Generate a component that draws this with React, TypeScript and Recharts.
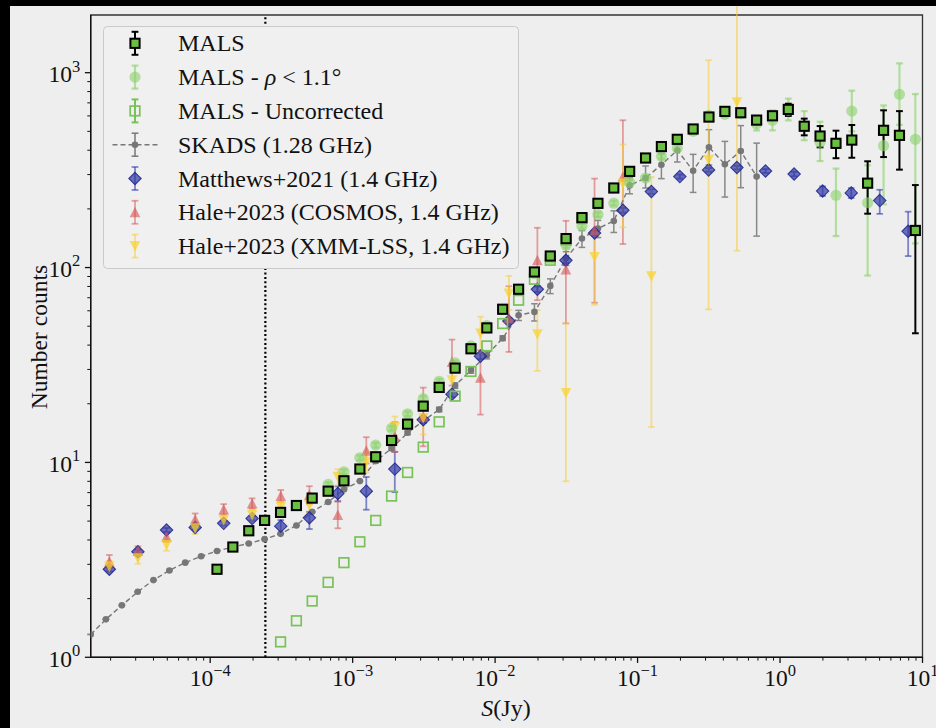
import React from 'react';
import { ScatterChart, Scatter, XAxis, YAxis, ErrorBar, ReferenceLine, ReferenceArea } from 'recharts';

const FONT = "'Liberation Serif', 'Times New Roman', 'DejaVu Serif', serif";

// ---------- axis definitions ----------
const X_MIN = 1.45e-5;
const X_MAX = 10;
const Y_MIN = 1;
const Y_MAX = 1977;
const xMajorTicks = [1e-4, 1e-3, 1e-2, 1e-1, 1, 10];
const xTickLabels = ['\u22124', '\u22123', '\u22122', '\u22121', '0', '1'];
const yMajorTicks = [1, 10, 100, 1000];
const yTickLabels = ['0', '1', '2', '3'];
const minorMult = [2, 3, 4, 5, 6, 7, 8, 9];
const xMinorTicks = [1e-5, 1e-4, 1e-3, 1e-2, 1e-1, 1]
  .flatMap((d) => minorMult.map((m) => +(m * d).toPrecision(3)))
  .filter((v) => v > X_MIN && v < X_MAX);
const yMinorTicks = [1, 10, 100, 1000]
  .flatMap((d) => minorMult.map((m) => m * d))
  .filter((v) => v < Y_MAX);
const xTicks = [...xMajorTicks, ...xMinorTicks].sort((a, b) => a - b);
const yTicks = [...yMajorTicks, ...yMinorTicks].sort((a, b) => a - b);

const completenessLimit = 2.44e-4;

// ---------- MALS ----------
const malsS = [1.117e-4, 1.443e-4, 1.866e-4, 2.41e-4, 3.12e-4, 4.03e-4, 5.2e-4, 6.73e-4, 8.69e-4, 1.124e-3,
  1.452e-3, 1.876e-3, 2.43e-3, 3.13e-3, 4.05e-3, 5.24e-3, 6.77e-3, 8.75e-3, 1.13e-2, 1.462e-2,
  1.888e-2, 2.44e-2, 3.15e-2, 4.07e-2, 5.27e-2, 6.81e-2, 8.8e-2, 0.1138, 0.147, 0.19,
  0.2455, 0.317, 0.41, 0.53, 0.685, 0.885, 1.143, 1.479, 1.91, 2.47,
  3.19, 4.12, 5.33, 6.89, 8.91];
const malsN = [2.83, 3.68, 4.46, 5.04, 5.54, 6.01, 6.56, 7.12, 8.05, 9.25,
  10.69, 12.97, 15.72, 19.44, 24.26, 30.47, 38.3, 49.0, 61.1, 77.4,
  94.9, 114.6, 140.8, 180.4, 213.6, 256, 311.6, 364.9, 417.6, 455,
  514, 592, 633, 623, 571, 601, 648, 531, 473, 434,
  451, 271, 506, 477, 155];
const malsErrLo = [0.03, 0.04, 0.05, 0.06, 0.06, 0.07, 0.08, 0.08, 0.09, 0.1,
  0.12, 0.15, 0.18, 0.22, 0.28, 0.35, 0.45, 0.6, 0.7, 0.9,
  1.1, 1.4, 1.7, 2.2, 2.6, 3, 3.8, 4.5, 5.5, 6.5,
  8, 10, 13, 15, 18, 25, 48, 54, 59, 70,
  85, 82, 137, 159, 109];
const malsErrHi = [0.03, 0.04, 0.05, 0.06, 0.06, 0.07, 0.08, 0.08, 0.09, 0.1,
  0.12, 0.15, 0.18, 0.22, 0.28, 0.35, 0.45, 0.6, 0.7, 0.9,
  1.1, 1.4, 1.7, 2.2, 2.6, 3, 3.8, 4.5, 5.5, 6.5,
  8, 10, 13, 15, 18, 25, 45, 50, 59, 70,
  88, 80, 135, 158, 110];

// ---------- MALS rho < 1.1 deg (bins 7..44 of MALS) ----------
const rhoS = malsS.slice(7);
const rhoN = [7.71, 8.95, 10.56, 12.27, 14.94, 17.76, 21.24, 26.1, 32.4, 39.6,
  50.4, 61, 77, 93, 110, 130, 163, 187, 214, 273,
  288, 372, 411, 500, 604, 611, 616, 545, 569, 641,
  530, 439, 235, 635, 215, 422, 774, 455];
const rhoErrLo = [0.2, 0.25, 0.3, 0.35, 0.4, 0.5, 0.6, 0.7, 0.9, 1.1,
  1.4, 1.7, 2.1, 2.5, 3, 3.5, 4.5, 5, 6, 8,
  9, 11, 13, 16, 19, 20, 22, 40, 63, 72,
  80, 87, 90, 135, 124, 211, 234, 322];
const rhoErrHi = [0.2, 0.25, 0.3, 0.35, 0.4, 0.5, 0.6, 0.7, 0.9, 1.1,
  1.4, 1.7, 2.1, 2.5, 3, 3.5, 4.5, 5, 6, 8,
  9, 11, 13, 16, 19, 20, 22, 30, 72, 95,
  105, 121, 87, 174, 120, 257, 343, 322];

// ---------- MALS uncorrected (bins 4..23) ----------
const uncS = malsS.slice(4, 24);
const uncN = [1.2, 1.54, 1.944, 2.425, 3.06, 3.915, 5.04, 6.72, 8.88, 11.98,
  16.16, 21.88, 29.3, 39.6, 51.6, 68.0, 87.1, 109, 138, 179];

// ---------- SKADS ----------
const skS = [1.45e-5, 1.854e-5, 2.4e-5, 3.1e-5, 4.0e-5, 5.17e-5, 6.68e-5, 8.64e-5, ...malsS.slice(0, 35)];
const skN = [1.31, 1.566, 1.848, 2.168, 2.49, 2.79, 3.06, 3.3,
  3.51, 3.68, 3.84, 4.04, 4.3, 4.75, 5.58, 6.26, 7.27, 8.02,
  10.16, 11.8, 14.19, 16.3, 18.7, 24.8, 29.7, 35.5, 43.4, 56.9,
  59.2, 80.5, 111.6, 140.9, 158.5, 173.4, 264, 288, 337, 400,
  314, 414, 339, 396, 293];
const skErrLo = [0, 0, 0, 0, 0, 0, 0, 0,
  0, 0, 0, 0, 0, 0, 0, 0, 0, 0,
  0.2, 0.25, 0.3, 0.4, 0.5, 0.8, 1.0, 1.5, 1.2, 3.4,
  6, 7, 9, 14, 16, 22, 25, 32, 51, 52,
  71, 78, 109, 139, 148];
const skErrHi = [0, 0, 0, 0, 0, 0, 0, 0,
  0, 0, 0, 0, 0, 0, 0, 0, 0, 0,
  0.2, 0.25, 0.3, 0.4, 0.5, 0.8, 1.0, 1.5, 1.2, 3.4,
  6, 7, 9, 14, 16, 22, 25, 44, 47, 53,
  67, 96, 105, 139, 142];

// ---------- Matthews+2021 ----------
const matS = [1.96e-5, 3.11e-5, 4.94e-5, 7.85e-5, 1.245e-4, 1.97e-4, 3.13e-4, 4.97e-4, 7.87e-4, 1.247e-3,
  1.977e-3, 3.13e-3, 4.98e-3, 7.89e-3, 1.25e-2, 1.98e-2, 3.14e-2, 4.99e-2, 7.89e-2, 0.125,
  0.198, 0.315, 0.498, 0.791, 1.256, 1.99, 3.16, 5.01, 7.93];
const matN = [2.83, 3.48, 4.5, 4.64, 4.87, 5.16, 4.71, 5.2, 6.93, 7.12,
  9.24, 16.57, 22.4, 35.1, 53.2, 77.4, 109, 150.4, 196.8, 245.5,
  293, 317, 326, 313, 302, 247, 241.5, 220.6, 153.5];
const matErrLo = [0.07, 0.09, 0.11, 0.12, 0.12, 0.13, 0.39, 0.65, 0.6, 1.4,
  2.2, 0.6, 0.8, 1.2, 1.8, 2.5, 3.5, 4.5, 5.5, 6.5,
  7, 7, 7, 7, 8, 14, 14, 32, 39];
const matErrHi = [0.07, 0.09, 0.11, 0.12, 0.12, 0.13, 0.35, 0.38, 0.6, 1.3,
  2.1, 0.6, 0.8, 1.2, 1.8, 2.5, 3.5, 4.5, 5.5, 6.5,
  7, 7, 7, 7, 8, 14, 14, 30, 40];

// ---------- Hale+2023 COSMOS ----------
const cosS = [1.96e-5, 3.11e-5, 4.94e-5, 7.85e-5, 1.245e-4, 1.97e-4, 3.13e-4, 4.97e-4, 7.87e-4, 1.247e-3,
  1.977e-3, 3.13e-3, 4.98e-3, 7.89e-3, 1.25e-2, 1.98e-2, 3.14e-2, 4.99e-2, 7.89e-2];
const cosN = [3.09, 3.51, 4.15, 5.1, 5.74, 6.16, 6.72, 6.8, 5.37, 11.47,
  13.6, 17.1, 32.8, 27.2, 54.7, 109, 97.7, 155, 292];
const cosErrLo = [0.24, 0.2, 0.25, 0.35, 0.35, 0.36, 0.46, 0.7, 0.78, 1.6,
  2.3, 5, 8, 9.6, 17.8, 41, 46, 89, 160];
const cosErrHi = [0.26, 0.2, 0.25, 0.37, 0.37, 0.38, 0.5, 0.75, 0.91, 2.0,
  2.5, 7.1, 9.9, 10.5, 25.5, 51, 76, 131, 278];

// ---------- Hale+2023 XMM-LSS ----------
const xmmS = [1.96e-5, 3.11e-5, 4.94e-5, 7.85e-5, 1.245e-4, 1.97e-4, 3.13e-4, 4.97e-4, 7.87e-4, 1.247e-3,
  1.977e-3, 3.13e-3, 4.98e-3, 7.89e-3, 1.25e-2, 1.98e-2, 3.14e-2, 4.99e-2, 7.89e-2, 0.125,
  0.315, 0.498];
const xmmN = [2.92, 3.22, 3.77, 4.59, 5.06, 5.37, 5.92, 6.04, 8.44, 10.07,
  15.2, 16.9, 26.4, 45.9, 73.6, 45.5, 22.7, 113.3, 270, 90.2,
  357, 705];
const xmmErrLo = [0.2, 0.2, 0.25, 0.3, 0.3, 0.35, 0.4, 0.5, 0.8, 1.2,
  2, 3, 4, 9.5, 13, 16, 14.7, 49, 109, 75,
  296, 583];
const xmmErrHi = [0.2, 0.2, 0.25, 0.3, 0.3, 0.35, 0.4, 0.5, 0.8, 1.2,
  2, 3, 4, 10, 17, 15, 29, 42, 158, 201,
  801, 2500];

const build = (S: number[], N: number[], lo: number[], hi: number[]) =>
  S.map((x, i) => ({ x, y: N[i], err: [lo[i], hi[i]] }));

const malsData = build(malsS, malsN, malsErrLo, malsErrHi);
const rhoData = build(rhoS, rhoN, rhoErrLo, rhoErrHi);
const uncData = uncS.map((x, i) => ({ x, y: uncN[i] }));
const skData = build(skS, skN, skErrLo, skErrHi);
const matData = build(matS, matN, matErrLo, matErrHi);
const cosData = build(cosS, cosN, cosErrLo, cosErrHi);
const xmmData = build(xmmS, xmmN, xmmErrLo, xmmErrHi);

// ---------- colours ----------
const C_MALS = '#6abf40';
const C_RHO = 'rgba(140,210,110,0.62)';
const C_UNC = '#78c257';
const C_SK = '#777777';
const C_MAT = 'rgba(45,55,165,0.7)';
const C_MAT_EDGE = 'rgba(30,36,140,0.85)';
const C_MAT_ERR = 'rgba(50,60,170,0.6)';
const C_COS = 'rgba(215,85,85,0.62)';
const C_COS_ERR = 'rgba(215,90,90,0.55)';
const C_XMM = 'rgba(250,210,45,0.72)';
const C_XMM_ERR = 'rgba(245,205,60,0.55)';

// ---------- marker shapes ----------
const ok = (p: any) => Number.isFinite(p.cx) && Number.isFinite(p.cy);
const malsMark = (cx: number, cy: number) => (
  <rect x={cx - 4.6} y={cy - 4.6} width={9.2} height={9.2} fill={C_MALS} stroke="#000" strokeWidth={2} />
);
const rhoMark = (cx: number, cy: number) => <circle cx={cx} cy={cy} r={5.6} fill={C_RHO} />;
const uncMark = (cx: number, cy: number) => (
  <rect x={cx - 4.8} y={cy - 4.8} width={9.6} height={9.6} fill="none" stroke={C_UNC} strokeWidth={1.7} />
);
const skMark = (cx: number, cy: number) => <circle cx={cx} cy={cy} r={3.3} fill={C_SK} />;
const matMark = (cx: number, cy: number) => (
  <path d={`M${cx},${cy - 6.2}L${cx + 6.2},${cy}L${cx},${cy + 6.2}L${cx - 6.2},${cy}Z`} fill={C_MAT} stroke={C_MAT_EDGE} strokeWidth={1.1} />
);
const cosMark = (cx: number, cy: number) => (
  <path d={`M${cx},${cy - 5.5}L${cx + 5.3},${cy + 5}L${cx - 5.3},${cy + 5}Z`} fill={C_COS} />
);
const xmmMark = (cx: number, cy: number) => (
  <path d={`M${cx},${cy + 5.5}L${cx + 5.3},${cy - 5}L${cx - 5.3},${cy - 5}Z`} fill={C_XMM} />
);
const wrap = (fn: (cx: number, cy: number) => React.ReactElement) => (p: any) =>
  ok(p) ? fn(p.cx, p.cy) : <g />;

// ---------- ticks ----------
const XTick = (props: any) => {
  const { x, y, payload } = props;
  const k = xMajorTicks.indexOf(payload.value);
  const major = k >= 0;
  return (
    <g>
      <line x1={x} x2={x} y1={y} y2={y + (major ? 5.6 : 3.3)} stroke="#111" strokeWidth={major ? 1.3 : 1} />
      {major && (
        <text x={x} y={y + 28.7} textAnchor="middle" fontFamily={FONT} fontSize={23.5} fill="#111">
          10<tspan dy={-10.5} fontSize={16.5}>{xTickLabels[k]}</tspan>
        </text>
      )}
    </g>
  );
};
const YTick = (props: any) => {
  const { x, y, payload } = props;
  const k = yMajorTicks.indexOf(payload.value);
  const major = k >= 0;
  return (
    <g>
      <line x1={x - (major ? 5.8 : 3.4)} x2={x} y1={y} y2={y} stroke="#111" strokeWidth={major ? 1.3 : 1} />
      {major && (
        <text x={x - 10.5} y={y + 9.4} textAnchor="end" fontFamily={FONT} fontSize={23.5} fill="#111">
          10<tspan dy={-10.5} fontSize={16.5}>{yTickLabels[k]}</tspan>
        </text>
      )}
    </g>
  );
};

// ---------- legend ----------
const legendRows = [
  { key: 'mals', label: 'MALS' },
  { key: 'rho', label: 'rho' },
  { key: 'unc', label: 'MALS - Uncorrected' },
  { key: 'sk', label: 'SKADS (1.28 GHz)' },
  { key: 'mat', label: 'Matthews+2021 (1.4 GHz)' },
  { key: 'cos', label: 'Hale+2023 (COSMOS, 1.4 GHz)' },
  { key: 'xmm', label: 'Hale+2023 (XMM-LSS, 1.4 GHz)' },
];

const LegendBar = ({ cx, cy, color, w }: { cx: number; cy: number; color: string; w: number }) => (
  <g stroke={color} strokeWidth={w}>
    <line x1={cx} x2={cx} y1={cy - 11.5} y2={cy + 11.5} />
    <line x1={cx - 3.4} x2={cx + 3.4} y1={cy - 11.5} y2={cy - 11.5} />
    <line x1={cx - 3.4} x2={cx + 3.4} y1={cy + 11.5} y2={cy + 11.5} />
  </g>
);

const LegendIcon = ({ k, cx, cy }: { k: string; cx: number; cy: number }) => {
  switch (k) {
    case 'mals':
      return <g><LegendBar cx={cx} cy={cy} color="#000" w={2} />{malsMark(cx, cy)}</g>;
    case 'rho':
      return <g><LegendBar cx={cx} cy={cy} color={C_RHO} w={2.2} />{rhoMark(cx, cy)}</g>;
    case 'unc':
      return <g><LegendBar cx={cx} cy={cy} color={C_UNC} w={2} />{uncMark(cx, cy)}</g>;
    case 'sk':
      return (
        <g>
          <line x1={cx - 22.5} x2={cx + 23} y1={cy} y2={cy} stroke={C_SK} strokeWidth={1.5} strokeDasharray="5 3" />
          <LegendBar cx={cx} cy={cy} color={C_SK} w={1.5} />
          {skMark(cx, cy)}
        </g>
      );
    case 'mat':
      return <g><LegendBar cx={cx} cy={cy} color={C_MAT_ERR} w={1.8} />{matMark(cx, cy)}</g>;
    case 'cos':
      return <g><LegendBar cx={cx} cy={cy} color={C_COS_ERR} w={1.8} />{cosMark(cx, cy)}</g>;
    default:
      return <g><LegendBar cx={cx} cy={cy} color={C_XMM_ERR} w={1.8} />{xmmMark(cx, cy)}</g>;
  }
};

const Overlay = () => {
  const lx = 103;
  const ly = 26;
  return (
    <svg width={936} height={728} style={{ position: 'absolute', left: 0, top: 0, pointerEvents: 'none' }}>
      <rect x={lx + 0.5} y={ly + 0.5} width={415} height={242} rx={4} fill="#f0f0f0" stroke="#cacaca" strokeWidth={1} />
      {legendRows.map((r, i) => {
        const cy = ly + 17.3 + 33.8 * i;
        return (
          <g key={r.key}>
            <LegendIcon k={r.key} cx={lx + 32} cy={cy} />
            <text x={lx + 75} y={cy + 8} fontFamily={FONT} fontSize={24} fill="#111">
              {r.key === 'rho' ? (
                <>MALS - <tspan fontStyle="italic">ρ</tspan> &lt; 1.1°</>
              ) : (
                r.label
              )}
            </text>
          </g>
        );
      })}
      <text x={506} y={716} textAnchor="middle" fontFamily={FONT} fontSize={24} fill="#111">
        <tspan fontStyle="italic">S</tspan>(Jy)
      </text>
      <text x={47} y={337} transform="rotate(-90 47 337)" textAnchor="middle" fontFamily={FONT} fontSize={23.5} fill="#111">
        Number counts
      </text>
    </svg>
  );
};

export default function App() {
  return (
    <div style={{ position: 'fixed', left: 0, top: 0, width: 936, height: 728, background: '#eeeeee', overflow: 'hidden' }}>
      <div style={{ position: 'absolute', left: 0, top: 0 }}>
        <ScatterChart width={936} height={728} margin={{ top: 15, right: 13.5, bottom: 0, left: 0 }}>
          <XAxis
            dataKey="x"
            type="number"
            scale="log"
            domain={[X_MIN, X_MAX]}
            allowDataOverflow
            ticks={xTicks}
            interval={0}
            tick={XTick}
            tickLine={false}
            tickSize={0}
            tickMargin={0}
            height={70.7}
            axisLine={{ stroke: '#111', strokeWidth: 1.4 }}
          />
          <YAxis
            dataKey="y"
            type="number"
            scale="log"
            domain={[Y_MIN, Y_MAX]}
            allowDataOverflow
            ticks={yTicks}
            interval={0}
            tick={YTick}
            tickLine={false}
            tickSize={0}
            tickMargin={0}
            width={90.7}
            axisLine={{ stroke: '#111', strokeWidth: 1.4 }}
          />
          <ReferenceArea x1={X_MIN} x2={X_MAX} y1={Y_MIN} y2={Y_MAX} fill="none" fillOpacity={0} stroke="#333" strokeWidth={1.3} />
          <ReferenceLine x={completenessLimit} stroke="#000" strokeWidth={2.2} strokeDasharray="2 2.4" />
          <Scatter
            data={skData}
            isAnimationActive={false}
            line={{ stroke: C_SK, strokeWidth: 1.4, strokeDasharray: '5 3' }}
            lineType="joint"
            shape={wrap(skMark)}
          >
            <ErrorBar dataKey="err" direction="y" width={3.3} stroke="#888" strokeWidth={1.5} />
          </Scatter>
          <Scatter data={matData} isAnimationActive={false} shape={wrap(matMark)}>
            <ErrorBar dataKey="err" direction="y" width={3.3} stroke={C_MAT_ERR} strokeWidth={1.8} />
          </Scatter>
          <Scatter data={cosData} isAnimationActive={false} shape={wrap(cosMark)}>
            <ErrorBar dataKey="err" direction="y" width={3.3} stroke={C_COS_ERR} strokeWidth={1.8} />
          </Scatter>
          <Scatter data={xmmData} isAnimationActive={false} shape={wrap(xmmMark)}>
            <ErrorBar dataKey="err" direction="y" width={3.3} stroke={C_XMM_ERR} strokeWidth={1.8} />
          </Scatter>
          <Scatter data={uncData} isAnimationActive={false} shape={wrap(uncMark)} />
          <Scatter data={rhoData} isAnimationActive={false} shape={wrap(rhoMark)}>
            <ErrorBar dataKey="err" direction="y" width={3.4} stroke={C_RHO} strokeWidth={2.2} />
          </Scatter>
          <Scatter data={malsData} isAnimationActive={false} shape={wrap(malsMark)}>
            <ErrorBar dataKey="err" direction="y" width={3.4} stroke="#000" strokeWidth={2} />
          </Scatter>
        </ScatterChart>
      </div>
      <div style={{ position: 'absolute', left: 0, top: 0, width: 10, height: 728, background: '#000' }} />
      <div style={{ position: 'absolute', left: 0, top: 0, width: 936, height: 6, background: '#000' }} />
      <Overlay />
    </div>
  );
}
